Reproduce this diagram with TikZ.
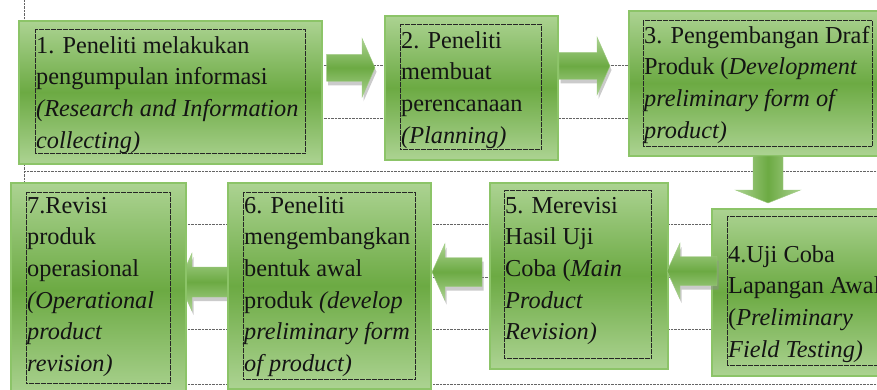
\documentclass[tikz,border=0pt]{standalone}
\usepackage{fontspec}
\setmainfont{Liberation Serif}
\usetikzlibrary{calc}
\definecolor{gLight}{RGB}{172,211,146}
\definecolor{gDark}{RGB}{108,170,67}
\definecolor{gEdge}{RGB}{140,196,104}
\definecolor{gridc}{RGB}{100,100,100}
\definecolor{txtc}{RGB}{20,20,20}
\tikzset{
 boxshape/.style={rectangle, draw=gEdge, line width=1.6pt, top color=gLight, bottom color=gLight, middle color=gDark, inner sep=0pt, anchor=north west},
 inbox/.style={rectangle, draw=black!85, dash pattern=on 0.6pt off 0.6pt, line width=0.5pt, inner sep=0pt, anchor=north west},
 txt/.style={inner sep=0pt, anchor=north west, align=left, text=txtc, font=\fontsize{24.3}{31.6}\selectfont},
 gridline/.style={draw=gridc, dash pattern=on 0.7pt off 0.7pt, line width=0.6pt},
 arrH/.style={top color=gLight, bottom color=gLight, middle color=gDark, draw=gLight!80!gDark, line width=0.4pt},
 arrV/.style={left color=gLight, right color=gLight, middle color=gDark, draw=gLight!80!gDark, line width=0.4pt},
 shadowc/.style={fill=black!45, fill opacity=0.45, draw=none, transform canvas={shift={(1.5pt,-4pt)}}},
}
% block arrow: style, name (uses <name>s tail, <name>t tip, <name>h head base), shaft half width, head half width
\newcommand\blockarrow[4]{%
 \path[#1] ($(#2s)!#3!90:(#2t)$) -- ($(#2h)!#3!-90:(#2s)$) -- ($(#2h)!#4!-90:(#2s)$) -- (#2t)
   -- ($(#2h)!#4!90:(#2s)$) -- ($(#2h)!#3!90:(#2s)$) -- ($(#2s)!#3!-90:(#2t)$) -- cycle;}
\begin{document}
\begin{tikzpicture}[x=1pt,y=-1pt]
\clip (0,0) rectangle (877,390);
\fill[white] (0,0) rectangle (877,390);
% table grid lines
\coordinate (gv0) at (24,0); \coordinate (gv1) at (24,390);
\draw[gridline] (gv0) -- (gv1);
\foreach \yy [count=\k] in {65,118,171,224,277,329,384}{
  \coordinate (gl\k) at (24,\yy); \coordinate (gr\k) at (877,\yy);
  \draw[gridline] (gl\k) -- (gr\k);
}
% arrow 6 -> 7 (lies under box 7)
\coordinate (a67s) at (229,282); \coordinate (a67t) at (179,282);
\coordinate (a67h) at ($(a67t)!13pt!(a67s)$);
\blockarrow{shadowc}{a67}{15pt}{29pt}
\blockarrow{arrH}{a67}{15pt}{29pt}
% boxes
\node[boxshape, minimum width=303pt, minimum height=143pt] (b1) at (18,20) {};
\node[boxshape, minimum width=173pt, minimum height=144pt] (b2) at (384,15) {};
\node[boxshape, minimum width=270pt, minimum height=145pt] (b3) at (628,10) {};
\node[boxshape, minimum width=190pt, minimum height=167pt] (b4) at (711,208) {};
\node[boxshape, minimum width=178pt, minimum height=186pt] (b5) at (489,182) {};
\node[boxshape, minimum width=203pt, minimum height=206pt] (b6) at (227,182) {};
\node[boxshape, minimum width=175pt, minimum height=215pt] (b7) at (10,182) {};
% inner dotted text frames
\node[inbox, minimum width=270pt, minimum height=124pt] (i1) at (35,29) {};
\node[inbox, minimum width=141pt, minimum height=125pt] (i2) at (400,24) {};
\node[inbox, minimum width=229pt, minimum height=126pt] (i3) at (643,20) {};
\node[inbox, minimum width=170pt, minimum height=149pt] (i4) at (727,216) {};
\node[inbox, minimum width=147pt, minimum height=168pt] (i5) at (504,190) {};
\node[inbox, minimum width=172pt, minimum height=187pt] (i6) at (243,192) {};
\node[inbox, minimum width=144pt, minimum height=191pt] (i7) at (26,192) {};
% texts
\node[txt] (t1) at (36,30.9) {\strut 1. Peneliti melakukan\\pengumpulan informasi\\\textit{(Research and Information}\\\textit{collecting)}};
\node[txt] (t2) at (401,25.9) {\strut 2. Peneliti\\membuat\\perencanaan\\\textit{(Planning)}};
\node[txt] (t3) at (644,20.9) {\strut 3. Pengembangan Draf\\Produk (\textit{Development}\\\textit{preliminary form of}\\\textit{product)}};
\node[txt] (t4) at (728,239.9) {\strut 4.Uji Coba\\Lapangan Awal\\(\textit{Preliminary}\\\textit{Field Testing)}};
\node[txt] (t5) at (505,190.9) {\strut 5. Merevisi\\Hasil Uji\\Coba (\textit{Main}\\\textit{Product}\\\textit{Revision)}};
\node[txt] (t6) at (244,190.9) {\strut 6. Peneliti\\mengembangkan\\bentuk awal\\produk \textit{(develop}\\\textit{preliminary form}\\\textit{of product)}};
\node[txt] (t7) at (27,190.9) {\strut 7.Revisi\\produk\\operasional\\\textit{(Operational}\\\textit{product}\\\textit{revision)}};
% arrows between boxes
\coordinate (a12s) at ($(b1.east)+(4,-24.5)$); \coordinate (a12t) at ($(b2.west)+(-9,-20)$);
\coordinate (a12h) at ($(a12t)!13pt!(a12s)$);
\blockarrow{shadowc}{a12}{13.5pt}{29.5pt}
\blockarrow{arrH}{a12}{13.5pt}{29.5pt}
\coordinate (a23s) at (559,66); \coordinate (a23t) at (610,66);
\coordinate (a23h) at ($(a23t)!13pt!(a23s)$);
\blockarrow{shadowc}{a23}{13.5pt}{29pt}
\blockarrow{arrH}{a23}{13.5pt}{29pt}
\coordinate (a34s) at (768,156); \coordinate (a34t) at (768,203);
\coordinate (a34h) at ($(a34t)!13pt!(a34s)$);
\blockarrow{arrV}{a34}{15pt}{32.5pt}
\coordinate (a45s) at (717,271); \coordinate (a45t) at (667,271);
\coordinate (a45h) at ($(a45t)!13pt!(a45s)$);
\blockarrow{shadowc}{a45}{14.5pt}{28pt}
\blockarrow{arrH}{a45}{14.5pt}{28pt}
\coordinate (a56s) at (482,272); \coordinate (a56t) at (432,272);
\coordinate (a56h) at ($(a56t)!13pt!(a56s)$);
\blockarrow{shadowc}{a56}{14.5pt}{28.5pt}
\blockarrow{arrH}{a56}{14.5pt}{28.5pt}
\end{tikzpicture}
\end{document}
